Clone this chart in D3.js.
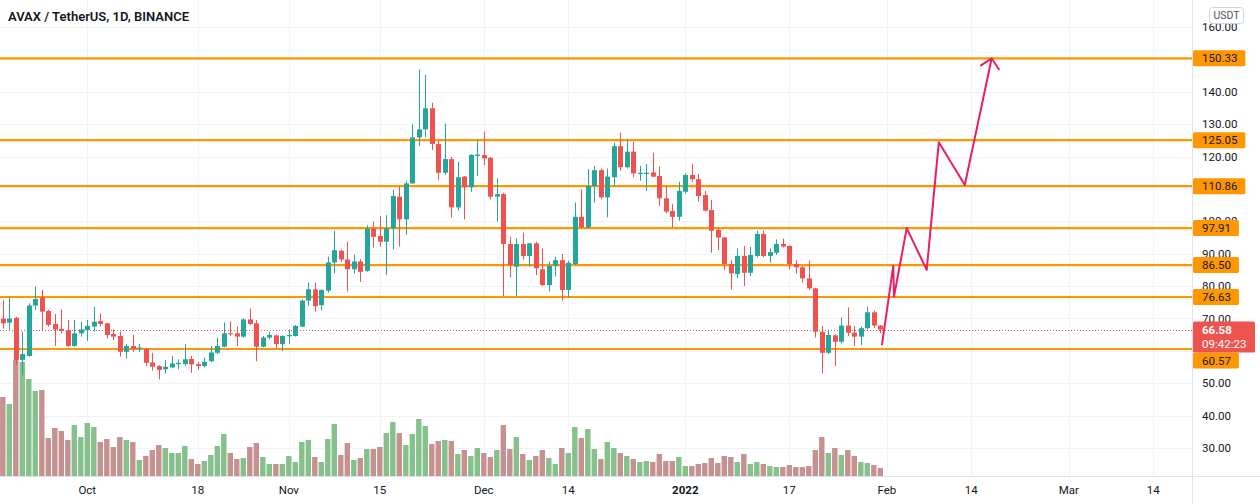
<!DOCTYPE html>
<html>
<head>
<meta charset="utf-8">
<script src="https://cdn.jsdelivr.net/npm/d3@7"></script>
<style>
body { margin: 0; background: #fff; }
svg { display: block; font-family: Roboto, "Liberation Sans", sans-serif; }
</style>
</head>
<body>
<div id="chart"></div>
<script>
// daily candles, 2021-09-18 .. 2022-01-31
var firstDay = "2021-09-18";

var opens = [
    70.0, 68.7, 70.2, 57.2, 58.4, 74.0, 76.5, 72.3, 68.3, 66.8, 66.4, 61.5, 65.4,
    66.4, 67.5, 69.2, 68.5, 65.2, 64.6, 59.7, 61.5, 60.6, 60.7, 56.4, 55.3, 54.3, 54.9, 55.9, 55.9,
    57.5, 55.9, 55.3, 56.8, 59.4, 61.3, 65.4, 65.4, 64.4, 69.7, 68.5, 61.3, 64.1, 64.8, 62.1,
    64.5, 64.6, 67.5, 75.5, 79.0, 74.1, 78.6, 87.3, 90.9, 88.2, 85.2, 87.6, 84.7, 97.8, 95.5,
    93.7, 97.8, 107.6, 100.6, 111.7, 125.9, 128.4, 134.9, 123.9, 115.0, 119.2, 104.3, 113.8, 110.5, 120.2,
    120.5, 119.6, 107.6, 108.4, 93.0, 86.0, 93.0, 89.3, 93.2, 85.2, 80.3, 86.2, 88.0, 78.8, 86.8,
    101.4, 98.1, 110.9, 115.8, 107.4, 113.6, 123.2, 116.7, 121.5, 114.6, 114.6, 115.1, 114.0, 107.1, 103.2, 101.4,
    109.1, 114.3, 113.0, 108.1, 103.5, 97.3, 95.0, 86.8, 83.7, 89.3, 84.1, 89.3, 96.1, 89.3, 90.3,
    93.0, 92.4, 86.8, 85.8, 82.4, 79.3, 65.9, 59.4, 64.8, 62.8, 67.8, 65.6, 64.4, 67.0, 71.9, 67.8
];
var highs = [
    75.7, 76.5, 70.5, 65.9, 74.7, 79.8, 78.8, 72.7, 71.4, 72.8, 69.5, 69.5, 69.0,
    69.5, 73.6, 71.6, 68.7, 66.6, 65.9, 62.1, 64.9, 62.1, 60.9, 59.4, 55.6, 57.2, 58.4, 57.4, 62.1,
    58.4, 56.6, 58.0, 61.5, 64.1, 68.8, 69.0, 67.5, 70.0, 73.1, 69.5, 64.6, 65.9, 65.0, 64.8,
    66.6, 68.0, 75.9, 81.0, 81.0, 79.0, 89.1, 97.1, 91.3, 93.7, 89.7, 88.3, 98.8, 99.9, 101.6,
    101.9, 109.7, 110.7, 112.5, 130.0, 146.9, 145.2, 136.6, 125.1, 130.2, 119.9, 118.4, 114.0, 120.7, 125.1,
    127.7, 119.9, 113.3, 108.8, 95.2, 94.7, 96.5, 93.4, 93.7, 91.6, 87.5, 89.1, 89.9, 87.8, 105.8,
    109.9, 116.1, 117.1, 116.3, 116.3, 124.3, 127.4, 125.3, 124.6, 117.1, 117.7, 121.2, 116.9, 110.9, 105.3, 112.2,
    114.8, 117.7, 114.6, 109.4, 106.6, 97.8, 95.2, 88.0, 91.6, 92.4, 92.2, 97.1, 97.1, 91.6, 94.4,
    94.7, 92.6, 88.0, 86.2, 87.8, 79.5, 67.7, 66.6, 65.0, 70.3, 73.4, 67.7, 67.5, 73.6, 72.4, 68.0
];
var lows = [
    66.9, 66.4, 55.6, 52.5, 58.2, 72.6, 66.2, 67.5, 61.5, 65.4, 61.3, 61.3, 64.4,
    63.1, 65.9, 67.5, 63.8, 63.3, 58.2, 57.7, 59.7, 59.7, 55.3, 53.9, 51.2, 53.0, 54.6, 54.3, 55.3,
    53.2, 54.1, 54.9, 56.5, 59.0, 61.1, 64.6, 61.5, 64.1, 68.0, 56.8, 61.1, 63.5, 60.8, 59.9,
    62.1, 64.4, 67.3, 73.8, 72.1, 72.4, 78.0, 83.9, 87.5, 78.3, 83.9, 81.3, 84.4, 91.9, 92.2,
    83.4, 91.3, 92.2, 95.8, 111.5, 123.2, 125.9, 122.0, 112.7, 114.3, 101.2, 103.3, 100.6, 109.1, 114.0,
    117.4, 106.8, 99.9, 76.9, 82.7, 76.9, 88.2, 86.0, 83.4, 80.0, 78.3, 82.9, 75.5, 76.5, 86.5,
    97.8, 97.8, 105.7, 106.8, 101.2, 110.9, 115.6, 116.3, 113.6, 112.5, 109.4, 113.6, 104.7, 102.5, 98.1, 100.2,
    108.6, 112.2, 106.1, 103.0, 90.3, 91.1, 85.0, 79.0, 82.4, 80.0, 83.1, 88.9, 88.9, 87.2, 89.6,
    91.9, 85.2, 83.9, 81.0, 78.8, 64.1, 53.0, 59.0, 55.3, 62.3, 64.6, 61.5, 61.8, 66.6, 67.0, 65.4
];
var closes = [
    68.5, 70.0, 57.2, 59.0, 74.0, 76.0, 72.1, 68.0, 66.6, 66.2, 61.5, 65.4, 66.6,
    67.7, 69.0, 68.3, 64.9, 64.4, 59.7, 61.5, 60.5, 61.0, 56.3, 55.1, 54.1, 55.1, 56.1, 56.3, 57.4,
    55.8, 55.3, 56.6, 59.5, 61.5, 65.4, 65.2, 64.4, 69.7, 68.3, 61.3, 64.1, 64.9, 62.1, 64.6,
    64.9, 67.7, 75.5, 79.0, 73.8, 78.8, 87.3, 91.1, 88.2, 85.2, 87.6, 84.4, 97.8, 95.2, 93.7,
    97.8, 107.8, 100.6, 111.7, 125.9, 128.4, 134.9, 123.9, 115.0, 119.2, 104.3, 113.6, 110.5, 120.5, 120.6,
    119.4, 107.6, 108.4, 93.0, 86.5, 93.0, 89.3, 93.2, 85.5, 80.3, 86.2, 88.0, 78.8, 87.2, 101.4,
    98.1, 110.9, 115.8, 107.4, 113.8, 123.2, 116.7, 121.5, 114.8, 115.0, 115.0, 113.8, 107.1, 103.0, 101.4, 109.4,
    114.3, 113.0, 107.8, 103.3, 97.1, 95.0, 86.8, 83.9, 89.3, 84.1, 89.6, 96.1, 89.3, 90.5, 93.0,
    92.2, 86.8, 85.8, 82.4, 79.3, 65.9, 59.4, 64.9, 62.8, 67.8, 65.6, 64.4, 67.0, 71.9, 67.8, 66.58
];
// volume, millions (relative)
var volumes = [
    79, 72, 116, 114, 97, 85, 86, 38, 48, 45, 36, 51, 39,
    53, 49, 34, 37, 29, 39, 36, 34, 16, 20, 26, 31, 28, 23, 23, 30,
    17, 12, 15, 21, 30, 42, 23, 17, 18, 29, 33, 19, 12, 12, 12,
    20, 14, 34, 36, 19, 14, 37, 52, 21, 33, 16, 18, 27, 27, 29,
    43, 54, 43, 31, 42, 57, 50, 32, 35, 36, 35, 22, 26, 20, 28,
    23, 19, 26, 51, 27, 39, 22, 16, 20, 26, 18, 12, 28, 23, 49,
    38, 47, 27, 17, 34, 28, 23, 20, 17, 14, 15, 14, 22, 15, 15, 19,
    10, 10, 12, 13, 18, 13, 20, 19, 14, 22, 12, 14, 12, 10, 9,
    9, 11, 9, 9, 10, 26, 39, 23, 28, 21, 26, 20, 14, 13, 11, 8
];

var levels = [150.33, 125.05, 110.86, 97.91, 86.50, 76.63, 60.57];
var lastPrice = 66.58;
var countdown = "09:42:23";

var priceTicks = [30, 40, 50, 60, 70, 80, 90, 100, 110, 120, 130, 140, 150, 160];
var timeTicks = ["2021-10-01", "2021-10-18", "2021-11-01", "2021-11-15", "2021-12-01", "2021-12-14",
                 "2022-01-01", "2022-01-17", "2022-02-01", "2022-02-14", "2022-03-01", "2022-03-14"];
var timeTickLabels = ["Oct", "18", "Nov", "15", "Dec", "14", "2022", "17", "Feb", "14", "Mar", "14"];

// hand-drawn projection
var pathDates = ["2022-01-31T06:00", "2022-02-02T00:00", "2022-02-02T02:30", "2022-02-04T01:30",
                 "2022-02-07T03:20", "2022-02-09T00:00", "2022-02-13T00:00", "2022-02-17T03:20"];
var pathPrices = [61.8, 86.3, 76.7, 97.9, 85.0, 124.4, 111.2, 150.33];
var arrowDates = ["2022-02-15T09:00", "2022-02-17T03:20", "2022-02-18T07:30"];
var arrowPrices = [148.0, 150.33, 146.7];

var title = "AVAX / TetherUS, 1D, BINANCE";
var currency = "USDT";

drawChart();

function drawChart() {
    var width = 1260, height = 504;
    var plotRight = 1192;     // start of the price scale
    var plotBottom = 476;     // time scale line

    var up = "#26a69a", down = "#ef5350";
    var volUp = "#86c08a", volDown = "#c59191";
    var orange = "#ff9800";

    var parseDay = d3.utcParse("%Y-%m-%d");
    var parseTime = d3.utcParse("%Y-%m-%dT%H:%M");
    var start = parseDay(firstDay);
    var days = d3.utcDay.range(start, d3.utcDay.offset(start, opens.length));

    var candles = days.map(function(d, i) {
        return { date: d, o: opens[i], h: highs[i], l: lows[i], c: closes[i], v: volumes[i] };
    });

    var svg = d3.select("#chart").append("svg")
        .attr("width", width)
        .attr("height", height);

    svg.append("rect").attr("width", width).attr("height", height).attr("fill", "#fff");

    // 6.5 px per day, Oct 1 sits at x = 87.3
    var xScale = d3.scaleUtc()
        .domain([parseDay("2021-09-17"), parseDay("2022-03-20")])
        .range([-3.7, 1192.3]);

    var yScale = d3.scaleLinear()
        .domain([30, 160])
        .range([448, 27]);

    var vScale = d3.scaleLinear()
        .domain([0, 116])
        .range([plotBottom, 360]);

    svg.append("clipPath").attr("id", "plotClip")
        .append("rect").attr("width", plotRight).attr("height", plotBottom);

    var plot = svg.append("g").attr("clip-path", "url(#plotClip)");

    // grid
    plot.selectAll(".hgrid")
        .data(priceTicks)
        .enter().append("line")
        .attr("x1", 0).attr("x2", plotRight)
        .attr("y1", d => Math.round(yScale(d)) + 0.5)
        .attr("y2", d => Math.round(yScale(d)) + 0.5)
        .attr("stroke", "#f0f3fa");

    plot.selectAll(".vgrid")
        .data(timeTicks)
        .enter().append("line")
        .attr("x1", d => Math.round(xScale(parseDay(d))) + 0.5)
        .attr("x2", d => Math.round(xScale(parseDay(d))) + 0.5)
        .attr("y1", 0).attr("y2", plotBottom)
        .attr("stroke", "#f0f3fa");

    // volume
    plot.selectAll(".vol")
        .data(candles)
        .enter().append("rect")
        .attr("x", d => xScale(d.date) - 2.7)
        .attr("width", 5.4)
        .attr("y", d => vScale(d.v))
        .attr("height", d => plotBottom - vScale(d.v))
        .attr("fill", d => d.c >= d.o ? volUp : volDown);

    // support / resistance lines
    plot.selectAll(".level")
        .data(levels)
        .enter().append("line")
        .attr("x1", 0).attr("x2", plotRight)
        .attr("y1", d => yScale(d)).attr("y2", d => yScale(d))
        .attr("stroke", orange)
        .attr("stroke-width", 2.2);

    // last price dotted line
    plot.append("line")
        .attr("x1", 0).attr("x2", plotRight)
        .attr("y1", Math.round(yScale(lastPrice)) + 0.5)
        .attr("y2", Math.round(yScale(lastPrice)) + 0.5)
        .attr("stroke", down)
        .attr("stroke-dasharray", "1,2");

    // candles
    var candleGroup = plot.selectAll(".candle")
        .data(candles)
        .enter().append("g");

    candleGroup.append("line")
        .attr("x1", d => Math.round(xScale(d.date)) + 0.5)
        .attr("x2", d => Math.round(xScale(d.date)) + 0.5)
        .attr("y1", d => yScale(d.h))
        .attr("y2", d => yScale(d.l))
        .attr("stroke", d => d.c >= d.o ? up : down);

    candleGroup.append("rect")
        .attr("x", d => Math.round(xScale(d.date)) + 0.5 - 2.5)
        .attr("width", 5)
        .attr("y", d => yScale(Math.max(d.o, d.c)))
        .attr("height", d => Math.max(1, Math.abs(yScale(d.o) - yScale(d.c))))
        .attr("fill", d => d.c >= d.o ? up : down);

    // projection drawing
    var line = d3.line()
        .x(d => xScale(parseTime(d[0])))
        .y(d => yScale(d[1]));

    plot.append("path")
        .attr("d", line(d3.zip(pathDates, pathPrices)))
        .attr("fill", "none")
        .attr("stroke", "#e91e63")
        .attr("stroke-width", 2)
        .attr("stroke-linejoin", "round");

    plot.append("path")
        .attr("d", line(d3.zip(arrowDates, arrowPrices)))
        .attr("fill", "none")
        .attr("stroke", "#e91e63")
        .attr("stroke-width", 2);

    // axes borders
    svg.append("line")
        .attr("x1", 0).attr("x2", width)
        .attr("y1", plotBottom + 0.5).attr("y2", plotBottom + 0.5)
        .attr("stroke", "#e0e3eb");
    svg.append("line")
        .attr("x1", plotRight + 0.5).attr("x2", plotRight + 0.5)
        .attr("y1", 0).attr("y2", height)
        .attr("stroke", "#e0e3eb");

    // last price label geometry
    var lastY = yScale(lastPrice);
    var redTop = lastY - 8;
    var redH = 31;
    var labelH = 16;

    // where each level label ends up (pushed below the last price label where they collide)
    var levelY = levels.map(function(v) {
        var cy = yScale(v);
        if (cy + labelH / 2 > redTop && cy - labelH / 2 < redTop + redH) {
            cy = cy > lastY ? redTop + redH + labelH / 2 : redTop - labelH / 2;
        }
        return cy;
    });

    // price scale: ticks fully covered by a label are not printed
    var visibleTicks = priceTicks.filter(function(t) {
        var ty = yScale(t);
        var underLevel = levelY.some(cy => Math.abs(cy - ty) < 4.5);
        var underLast = ty > redTop && ty < redTop + redH;
        return !underLevel && !underLast;
    });

    svg.append("g").selectAll("text")
        .data(visibleTicks)
        .enter().append("text")
        .attr("x", plotRight + 10)
        .attr("y", d => yScale(d))
        .attr("dy", "0.36em")
        .attr("font-size", 11.5)
        .attr("fill", "#131722")
        .text(d => d3.format(".2f")(d));

    // time scale
    svg.append("g").selectAll("text")
        .data(timeTicks)
        .enter().append("text")
        .attr("x", d => xScale(parseDay(d)))
        .attr("y", 490)
        .attr("dy", "0.36em")
        .attr("text-anchor", "middle")
        .attr("font-size", 11.5)
        .attr("font-weight", (d, i) => timeTickLabels[i] === "2022" ? 700 : 400)
        .attr("fill", "#131722")
        .text((d, i) => timeTickLabels[i]);

    // level labels
    var labels = svg.append("g");
    levels.forEach(function(v, i) {
        var cy = levelY[i];
        var g = labels.append("g");
        var t = g.append("text")
            .attr("x", plotRight + 10)
            .attr("y", cy)
            .attr("dy", "0.36em")
            .attr("font-size", 11.5)
            .attr("fill", "#131722")
            .text(d3.format(".2f")(v));
        var w = t.node().getComputedTextLength();
        g.insert("rect", "text")
            .attr("x", plotRight + 1)
            .attr("y", cy - labelH / 2)
            .attr("width", w + 17)
            .attr("height", labelH)
            .attr("rx", 1.5)
            .attr("fill", orange);
    });

    svg.append("rect")
        .attr("x", plotRight + 1)
        .attr("y", redTop)
        .attr("width", 62)
        .attr("height", redH)
        .attr("rx", 1.5)
        .attr("fill", down);
    svg.append("text")
        .attr("x", plotRight + 10)
        .attr("y", lastY)
        .attr("dy", "0.36em")
        .attr("font-size", 11.5)
        .attr("font-weight", 700)
        .attr("fill", "#fff")
        .text(d3.format(".2f")(lastPrice));
    svg.append("text")
        .attr("x", plotRight + 10)
        .attr("y", lastY + 14.5)
        .attr("dy", "0.36em")
        .attr("font-size", 11.5)
        .attr("fill", "#fff")
        .text(countdown);

    // currency badge
    svg.append("rect")
        .attr("x", 1209.5).attr("y", 7.5)
        .attr("width", 34).attr("height", 16)
        .attr("rx", 3)
        .attr("fill", "#fff")
        .attr("stroke", "#d1d4dc");
    svg.append("text")
        .attr("x", 1226.5).attr("y", 15.5)
        .attr("dy", "0.36em")
        .attr("text-anchor", "middle")
        .attr("font-size", 10.5)
        .attr("fill", "#50535e")
        .text(currency);

    // title
    svg.append("text")
        .attr("x", 8)
        .attr("y", 16)
        .attr("dy", "0.36em")
        .attr("font-size", 13)
        .attr("font-weight", 600)
        .attr("fill", "#131722")
        .text(title);
}
</script>
</body>
</html>
